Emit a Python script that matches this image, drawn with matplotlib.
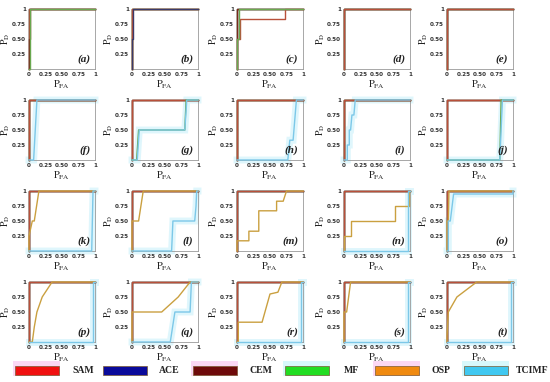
import matplotlib
matplotlib.use("Agg")
import matplotlib.pyplot as plt
from matplotlib.patches import Rectangle

plt.rcParams['mathtext.fontset'] = 'stix'

detectors = ["SAM", "ACE", "CEM", "MF", "OSP", "TCIMF"]
legend_colors = ["#f01010", "#0a0a9a", "#6e0a0a", "#22dd22", "#f08a10", "#40c8f0"]
line_colors = ["#b8503a", "#3a3a6a", "#7a2a1a", "#6aa84f", "#caa040", "#7cc8e8"]

panel_labels = ["(a)", "(b)", "(c)", "(d)", "(e)", "(f)", "(g)", "(h)", "(i)", "(j)",
                "(k)", "(l)", "(m)", "(n)", "(o)", "(p)", "(q)", "(r)", "(s)", "(t)"]

perfect_pfa = [0, 0, 1]
perfect_pd = [0, 1, 1]

# Non-perfect ROC curves per panel: detector -> (PFA list, PD list)
panel_a = {"CEM": ([0, 0, 0.02, 0.02, 1], [0, 0.5, 0.5, 1, 1]),
           "MF": ([0, 0.02, 0.02, 1], [0, 0, 1, 1])}
panel_b = {"ACE": ([0, 0, 0.01, 0.01, 1], [0, 0.5, 0.5, 1, 1])}
panel_c = {"SAM": ([0, 0, 0.05, 0.05, 0.73, 0.73, 1], [0, 0.5, 0.5, 0.83, 0.83, 1, 1]),
           "MF": ([0, 0, 0.03, 0.03, 1], [0, 0.5, 0.5, 1, 1])}
panel_d = {}
panel_e = {}
panel_f = {"TCIMF": ([0, 0.07, 0.12, 1], [0, 0, 1, 1])}
panel_g = {"MF": ([0, 0.07, 0.1, 0.8, 0.82, 1], [0, 0, 0.5, 0.5, 1, 1]),
           "TCIMF": ([0, 0.08, 0.11, 0.8, 0.83, 1], [0, 0, 0.5, 0.5, 1, 1])}
panel_h = {"TCIMF": ([0, 0.77, 0.8, 0.85, 0.9, 1], [0, 0, 0.33, 0.33, 1, 1])}
panel_i = {"TCIMF": ([0, 0.05, 0.05, 0.08, 0.08, 0.1, 0.12, 0.15, 0.17, 1],
                     [0, 0, 0.25, 0.25, 0.5, 0.5, 0.75, 0.75, 1, 1])}
panel_j = {"MF": ([0, 0.8, 0.82, 1], [0, 0, 1, 1]),
           "TCIMF": ([0, 0.8, 0.84, 1], [0, 0, 1, 1])}
panel_k = {"OSP": ([0, 0, 0.05, 0.08, 0.15, 1], [0, 0.25, 0.5, 0.5, 1, 1]),
           "TCIMF": ([0, 0.95, 0.97, 1], [0, 0, 1, 1])}
panel_l = {"OSP": ([0, 0, 0.1, 0.17, 1], [0, 0.5, 0.5, 1, 1]),
           "TCIMF": ([0, 0.6, 0.62, 0.95, 0.97, 0.98, 1], [0, 0, 0.5, 0.5, 0.75, 1, 1])}
panel_m = {"OSP": ([0, 0, 0.18, 0.18, 0.33, 0.33, 0.6, 0.6, 0.7, 0.75, 1],
                   [0, 0.17, 0.17, 0.33, 0.33, 0.67, 0.67, 0.83, 0.83, 1, 1])}
panel_n = {"OSP": ([0, 0, 0.1, 0.1, 0.78, 0.78, 0.98, 0.98, 1],
                   [0, 0.25, 0.25, 0.5, 0.5, 0.75, 0.75, 1, 1]),
           "TCIMF": ([0, 0.97, 0.97, 1], [0, 0, 1, 1])}
panel_o = {"OSP": ([0, 0, 0.02, 0.03, 1], [0, 0.5, 0.5, 1, 1]),
           "TCIMF": ([0, 0.02, 0.02, 0.05, 0.1, 1, 1], [0, 0, 0.5, 0.5, 0.95, 0.95, 1])}
panel_p = {"OSP": ([0, 0.05, 0.08, 0.12, 0.2, 0.35, 1], [0, 0, 0.25, 0.5, 0.75, 1, 1]),
           "TCIMF": ([0, 0.97, 0.97, 1], [0, 0, 1, 1])}
panel_q = {"OSP": ([0, 0, 0.45, 0.7, 0.88, 1], [0, 0.5, 0.5, 0.75, 1, 1]),
           "TCIMF": ([0, 0.58, 0.65, 0.88, 0.9, 1], [0, 0, 0.5, 0.5, 1, 1])}
panel_r = {"OSP": ([0, 0.02, 0.02, 0.38, 0.5, 0.62, 0.68, 1], [0, 0, 0.33, 0.33, 0.8, 0.83, 1, 1]),
           "TCIMF": ([0, 0.97, 0.97, 1], [0, 0, 1, 1])}
panel_s = {"OSP": ([0, 0, 0.04, 0.1, 1], [0, 0.5, 0.5, 1, 1]),
           "TCIMF": ([0, 0.97, 0.97, 1], [0, 0, 1, 1])}
panel_t = {"OSP": ([0, 0, 0.02, 0.15, 0.45, 1], [0, 0.1, 0.5, 0.75, 1, 1]),
           "TCIMF": ([0, 0.97, 0.97, 1], [0, 0, 1, 1])}

panels = [panel_a, panel_b, panel_c, panel_d, panel_e,
          panel_f, panel_g, panel_h, panel_i, panel_j,
          panel_k, panel_l, panel_m, panel_n, panel_o,
          panel_p, panel_q, panel_r, panel_s, panel_t]

xticks = [0, 0.25, 0.5, 0.75, 1]
xticklabels = ["0", "0.25", "0.50", "0.75", "1"]
yticks = [0.25, 0.5, 0.75, 1]
yticklabels = ["0.25", "0.50", "0.75", "1"]

W, H = 550, 382
fig = plt.figure(figsize=(W / 100, H / 100), dpi=100)

col_left = [29, 132, 237, 344, 447]
row_top = [9, 100, 191, 282]
aw, ah = 66, 60

# drawing order for perfect curves (last drawn shows on top)
perfect_order = ["TCIMF", "OSP", "MF", "ACE", "CEM", "SAM"]

for idx, panel in enumerate(panels):
    r, c = divmod(idx, 5)
    ax = fig.add_axes([col_left[c] / W, (H - row_top[r] - ah) / H, aw / W, ah / H])
    for det in perfect_order:
        if det not in panel:
            lc = line_colors[detectors.index(det)]
            ax.plot(perfect_pfa, perfect_pd, color=lc, lw=1.0, clip_on=False, zorder=3)
    for det in detectors:
        if det in panel:
            px, py = panel[det]
            lc = line_colors[detectors.index(det)]
            if det == "TCIMF":
                ax.plot(px, py, color="#d2f3fb", lw=5, alpha=0.7, clip_on=False, zorder=1,
                        solid_joinstyle="miter")
            ax.plot(px, py, color=lc, lw=1.0, clip_on=False, zorder=4)
    ax.set_xlim(0, 1)
    ax.set_ylim(0, 1)
    ax.set_xticks(xticks)
    ax.set_xticklabels(xticklabels)
    ax.set_yticks(yticks)
    ax.set_yticklabels(yticklabels)
    ax.tick_params(length=0, pad=2.0, labelsize=4.1)
    for lab in ax.get_xticklabels() + ax.get_yticklabels():
        lab.set_fontweight("bold")
        lab.set_color("#333333")
    for sp in ax.spines.values():
        sp.set_color("#999999")
        sp.set_linewidth(0.6)
    ax.set_xlabel(r"$\mathrm{P}_{\mathrm{FA}}$", fontsize=7.5, labelpad=1, color="#222222")
    ax.set_ylabel(r"$\mathrm{P}_{\mathrm{D}}$", fontsize=7, color="#222222")
    ax.yaxis.set_label_coords(-0.265, 0.5)
    ax.text(0.93, 0.08, panel_labels[idx], transform=ax.transAxes, ha="right", va="bottom",
            fontsize=8, fontweight="bold", fontstyle="italic", family="Liberation Serif",
            color="#222222", zorder=5)

# Legend
patch_x = [15, 103, 193, 285, 375, 464]
text_x = [72, 159, 250, 344, 432, 516]
glow = ["#fbd8f4", "#ffffff", "#fbd8f4", "#d8f8fb", "#fbd8f4", "#d8f8fb"]
pw, py0, ph = 44, 366, 9
for i, det in enumerate(detectors):
    fig.patches.append(Rectangle(((patch_x[i] - 2) / W, (H - py0 - ph - 1) / H), (pw + 3) / W,
                                 (ph + 6) / H, transform=fig.transFigure, facecolor=glow[i],
                                 edgecolor="none", zorder=0))
    fig.patches.append(Rectangle((patch_x[i] / W, (H - py0 - ph) / H), pw / W, ph / H,
                                 transform=fig.transFigure, facecolor=legend_colors[i],
                                 edgecolor="#7a5a30", linewidth=0.5, zorder=1))
    fig.text(text_x[i] / W, (H - py0 - ph / 2) / H, det, ha="left", va="center",
             fontsize=7, fontweight="bold", family="Liberation Serif", color="#222222")

fig.savefig("out.png", dpi=100)
